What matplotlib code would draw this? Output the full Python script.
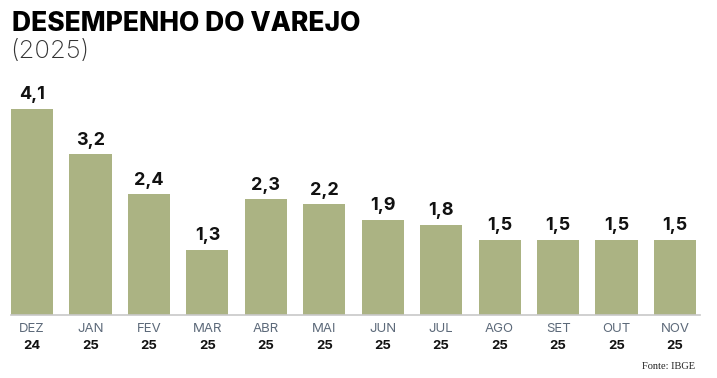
import matplotlib.pyplot as plt

meses = ['DEZ', 'JAN', 'FEV', 'MAR', 'ABR', 'MAI', 'JUN', 'JUL', 'AGO', 'SET', 'OUT', 'NOV']
anos = ['24', '25', '25', '25', '25', '25', '25', '25', '25', '25', '25', '25']
valores = [4.1, 3.2, 2.4, 1.3, 2.3, 2.2, 1.9, 1.8, 1.5, 1.5, 1.5, 1.5]

plt.rcParams['font.family'] = ['Inter', 'DejaVu Sans']

fig = plt.figure(figsize=(7.17, 3.78), dpi=100)
ax = fig.add_axes([11 / 717, 63 / 378, 685 / 717, 206 / 378])

x = list(range(len(valores)))
ax.bar(x, valores, width=0.72, color='#abb383')
ax.set_xlim(-0.36, 11.36)
ax.set_ylim(0, 4.1)
ax.axis('off')

for i, v in zip(x, valores):
    ax.annotate(('%.1f' % v).replace('.', ','), (i, v), xytext=(0, 4),
                textcoords='offset points', ha='center', va='bottom',
                fontsize=13, fontweight='bold', color='#111111',
                annotation_clip=False)
    ax.annotate(meses[i], (i, 0), xytext=(0, -6), textcoords='offset points',
                ha='center', va='top', fontsize=9.5, color='#5d6a7a',
                annotation_clip=False)
    ax.annotate(anos[i], (i, 0), xytext=(0, -18), textcoords='offset points',
                ha='center', va='top', fontsize=9.5, fontweight='bold',
                color='#111111', annotation_clip=False)

fig.add_artist(plt.Line2D([11 / 717, 700 / 717], [63 / 378, 63 / 378],
                          color='#c8c8c8', lw=1.2))

fig.text(12 / 717, 1 - 11 / 378, 'DESEMPENHO DO VAREJO', fontsize=19,
         fontweight='heavy', color='#000000', ha='left', va='top')
fig.text(10 / 717, 1 - 40 / 378, '(2025)', fontsize=18.5, fontweight='light',
         color='#333333', ha='left', va='top')
fig.text(695 / 717, 1 - 362 / 378, 'Fonte: IBGE', fontsize=7.5,
         family='Liberation Serif', color='#222222', ha='right', va='top')

fig.savefig('out.png', dpi=100)
